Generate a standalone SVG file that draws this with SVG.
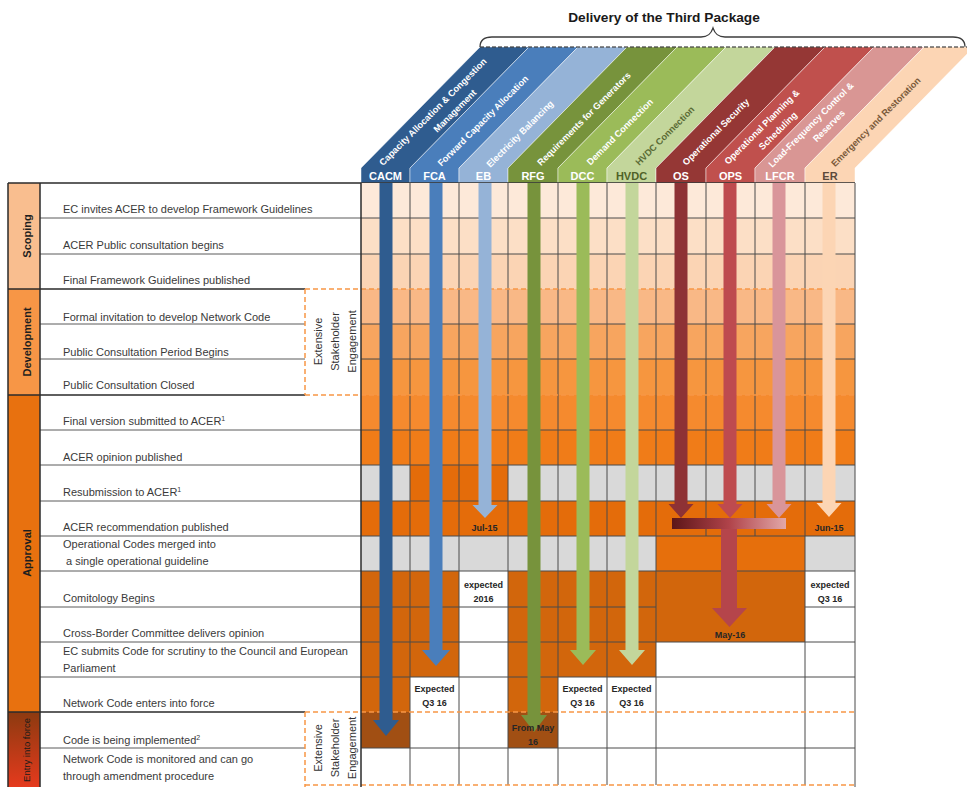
<svg xmlns="http://www.w3.org/2000/svg" width="967" height="787" viewBox="0 0 967 787">
<style>
text{font-family:"Liberation Sans",Arial,sans-serif}
.lbl{font-size:11px;fill:#3a3a3a}
.ph{font-size:11px;font-weight:bold;fill:#1e1e1e}
.hd{font-size:11px;font-weight:bold;fill:#ffffff;text-anchor:middle}
.bt{font-size:9.2px;font-weight:bold;fill:#ffffff;text-anchor:middle;dominant-baseline:central}
.ct{font-size:9px;font-weight:bold;fill:#262626;text-anchor:middle;dominant-baseline:central}
.ese{font-size:11px;fill:#333333;text-anchor:middle;dominant-baseline:central}
.gl{stroke:#4a4a4a;stroke-width:1;fill:none}
.ll{stroke:#5a5a5a;stroke-width:1;fill:none}
.dk{stroke:#2b2b2b;stroke-width:1.5;fill:none}
.dash{stroke:#F79646;stroke-width:1.5;stroke-dasharray:5 3;fill:none}
.band{stroke:#ffffff;stroke-width:0.8;stroke-opacity:0.6}
</style>
<defs>
<linearGradient id="entryG" x1="0" y1="0" x2="0" y2="1">
<stop offset="0" stop-color="#8C3A10"/><stop offset="1" stop-color="#E53A1D"/>
</linearGradient>
<linearGradient id="barG" x1="0" y1="0" x2="1" y2="0">
<stop offset="0" stop-color="#5C1618"/><stop offset="0.5" stop-color="#B0434A"/><stop offset="1" stop-color="#E2A8A8"/>
</linearGradient>
</defs>
<rect width="967" height="787" fill="#ffffff"/>

<g id="title">
<text x="664" y="22" font-size="13.7" font-weight="bold" fill="#1a1a1a" text-anchor="middle">Delivery of the Third Package</text>
<path d="M480,47 C480,40 484,37 492,37 L701,37 C708,37 711,34 713,28 C715,34 718,37 725,37 L953,37 C961,37 965,40 965,47" fill="none" stroke="#3c3c3c" stroke-width="1.3"/>
</g>

<g id="headers">
<g id="h-cacm"><polygon class="band" points="361,183 361,168 480,47 529,47 410,168 410,183" fill="#2F5C8F"/><text class="hd" x="385.5" y="180">CACM</text>
<g transform="translate(433,112) rotate(-45)"><text class="bt" x="0" y="0">Capacity Allocation &amp; Congestion</text></g>
<g transform="translate(455,111) rotate(-45)"><text class="bt" x="0" y="0">Management</text></g></g>
<g id="h-fca"><polygon class="band" points="410,183 410,168 529,47 578,47 459,168 459,183" fill="#4A7EBB"/><text class="hd" x="434.5" y="180">FCA</text>
<g transform="translate(483,121) rotate(-45)"><text class="bt">Forward Capacity Allocation</text></g></g>
<g id="h-eb"><polygon class="band" points="459,183 459,168 578,47 627,47 508,168 508,183" fill="#95B3D7"/><text class="hd" x="483.5" y="180">EB</text>
<g transform="translate(520,134) rotate(-45)"><text class="bt">Electricity Balancing</text></g></g>
<g id="h-rfg"><polygon class="band" points="508,183 508,168 627,47 677,47 558,168 558,183" fill="#77933C"/><text class="hd" x="533" y="180">RFG</text>
<g transform="translate(584,119) rotate(-45)"><text class="bt">Requirements for Generators</text></g></g>
<g id="h-dcc"><polygon class="band" points="558,183 558,168 677,47 726,47 607,168 607,183" fill="#9BBB59"/><text class="hd" x="582.5" y="180">DCC</text>
<g transform="translate(620,132) rotate(-45)"><text class="bt">Demand Connection</text></g></g>
<g id="h-hvdc"><polygon class="band" points="607,183 607,168 726,47 775,47 656,168 656,183" fill="#C3D69B"/><text class="hd" x="631.5" y="180" fill="#4F6228" style="fill:#4F6228">HVDC</text>
<g transform="translate(665,136) rotate(-45)"><text class="bt" style="fill:#5A6B35">HVDC Connection</text></g></g>
<g id="h-os"><polygon class="band" points="656,183 656,168 775,47 825,47 706,168 706,183" fill="#953735"/><text class="hd" x="681" y="180">OS</text>
<g transform="translate(716,132) rotate(-45)"><text class="bt">Operational Security</text></g></g>
<g id="h-ops"><polygon class="band" points="706,183 706,168 825,47 874,47 755,168 755,183" fill="#C0504D"/><text class="hd" x="730.5" y="180">OPS</text>
<g transform="translate(762,127) rotate(-45)"><text class="bt">Operational Planning &amp;</text></g>
<g transform="translate(778,131) rotate(-45)"><text class="bt">Scheduling</text></g></g>
<g id="h-lfcr"><polygon class="band" points="755,183 755,168 874,47 924,47 805,168 805,183" fill="#D99694"/><text class="hd" x="780" y="180">LFCR</text>
<g transform="translate(811,125) rotate(-45)"><text class="bt">Load-Frequency Control &amp;</text></g>
<g transform="translate(829,126) rotate(-45)"><text class="bt">Reserves</text></g></g>
<g id="h-er"><polygon class="band" points="805,183 805,168 924,47 974,47 855,168 855,183" fill="#FCD5B4"/><text class="hd" x="830" y="180" style="fill:#5C4A3A">ER</text>
<g transform="translate(876,122) rotate(-45)"><text class="bt" style="fill:#7A5A3A">Emergency and Restoration</text></g></g>
<line x1="480" y1="47" x2="967" y2="47" stroke="#1a1a1a" stroke-width="1.2" stroke-dasharray="4 2"/>
</g>

<g id="phases">
<g id="ph-scoping"><rect x="8" y="183" width="32" height="106" fill="#F9BE8F"/><text class="ph" transform="translate(27,236) rotate(-90)" text-anchor="middle" dominant-baseline="central">Scoping</text></g>
<g id="ph-development"><rect x="8" y="289" width="32" height="106" fill="#F79646"/><text class="ph" transform="translate(27,342) rotate(-90)" text-anchor="middle" dominant-baseline="central">Development</text></g>
<g id="ph-approval"><rect x="8" y="395" width="32" height="317" fill="#E8710F"/><text class="ph" transform="translate(27,553) rotate(-90)" text-anchor="middle" dominant-baseline="central">Approval</text></g>
<g id="ph-entry"><rect x="8" y="712" width="32" height="75" fill="url(#entryG)"/><text transform="translate(26,750) rotate(-90)" text-anchor="middle" dominant-baseline="central" font-size="9.5" fill="#1a1a1a">Entry into force</text></g>
</g>

<g id="labels">
<rect x="40" y="183" width="321" height="604" fill="#ffffff"/>
<g id="row-lines">
<path class="ll" d="M40,218H361 M40,254H361 M40,324H305 M40,359H305 M40,430H361 M40,465H361 M40,501H361 M40,536H361 M40,571H361 M40,607H361 M40,642H361 M40,677H361 M40,748H305"/>
<path class="dk" d="M8,289H305 M8,395H305 M8,712H305 M8,183H855 M8,183V787 M40,183V787"/>
<path class="dash" d="M305,289V395 M305,712V787"/>
</g>
<g id="r0"><text class="lbl" x="63" y="213">EC invites ACER to develop Framework Guidelines</text></g>
<g id="r1"><text class="lbl" x="63" y="249">ACER Public consultation begins</text></g>
<g id="r2"><text class="lbl" x="63" y="284">Final Framework Guidelines published</text></g>
<g id="r3"><text class="lbl" x="63" y="321">Formal invitation to develop Network Code</text></g>
<g id="r4"><text class="lbl" x="63" y="356">Public Consultation Period Begins</text></g>
<g id="r5"><text class="lbl" x="63" y="389">Public Consultation Closed</text></g>
<g id="r6"><text class="lbl" x="63" y="425">Final version submitted to ACER<tspan font-size="7" dy="-4">1</tspan></text></g>
<g id="r7"><text class="lbl" x="63" y="461">ACER opinion published</text></g>
<g id="r8"><text class="lbl" x="63" y="496">Resubmission to ACER<tspan font-size="7" dy="-4">1</tspan></text></g>
<g id="r9"><text class="lbl" x="63" y="531">ACER recommendation published</text></g>
<g id="r10"><text class="lbl" x="63" y="548">Operational Codes merged into</text><text class="lbl" x="66" y="565">a single operational guideline</text></g>
<g id="r11"><text class="lbl" x="63" y="602">Comitology Begins</text></g>
<g id="r12"><text class="lbl" x="63" y="637">Cross-Border Committee delivers opinion</text></g>
<g id="r13"><text class="lbl" x="63" y="655">EC submits Code for scrutiny to the Council and European</text><text class="lbl" x="63" y="672">Parliament</text></g>
<g id="r14"><text class="lbl" x="63" y="707">Network Code enters into force</text></g>
<g id="r15"><text class="lbl" x="63" y="744">Code is being implemented<tspan font-size="7" dy="-4">2</tspan></text></g>
<g id="r16"><text class="lbl" x="63" y="763">Network Code is monitored and can go</text><text class="lbl" x="63" y="780">through amendment procedure</text></g>
<g id="ese1"><text class="ese" transform="translate(318,341.5) rotate(-90)">Extensive</text><text class="ese" transform="translate(335,341.5) rotate(-90)">Stakeholder</text><text class="ese" transform="translate(352,341.5) rotate(-90)">Engagement</text></g>
<g id="ese2"><text class="ese" transform="translate(318,748) rotate(-90)">Extensive</text><text class="ese" transform="translate(335,748) rotate(-90)">Stakeholder</text><text class="ese" transform="translate(352,748) rotate(-90)">Engagement</text></g>
</g>

<g id="grid">
<rect x="361" y="183" width="494" height="35" fill="#FDE9D9"/>
<rect x="361" y="218" width="494" height="36" fill="#FCDFC6"/>
<rect x="361" y="254" width="494" height="35" fill="#FBD4B4"/>
<rect x="361" y="289" width="494" height="35" fill="#F9B886"/>
<rect x="361" y="324" width="494" height="35" fill="#F7A55F"/>
<rect x="361" y="359" width="494" height="36" fill="#F6963F"/>
<rect x="361" y="395" width="494" height="35" fill="#F58A2E"/>
<rect x="361" y="430" width="494" height="35" fill="#F07C18"/>
<rect x="361" y="465" width="494" height="36" fill="#D9D9D9"/>
<rect x="410" y="465" width="98" height="36" fill="#E46C0A"/>
<rect x="361" y="501" width="494" height="35" fill="#E46C0A"/>
<rect x="361" y="536" width="494" height="35" fill="#D9D9D9"/>
<rect x="656" y="536" width="149" height="35" fill="#E66F0C"/>
<rect x="361" y="571" width="494" height="71" fill="#D2660C"/>
<rect x="459" y="571" width="49" height="71" fill="#ffffff"/>
<rect x="805" y="571" width="50" height="71" fill="#ffffff"/>
<rect x="361" y="642" width="494" height="145" fill="#ffffff"/>
<rect x="361" y="642" width="98" height="35" fill="#D2660C"/>
<rect x="508" y="642" width="148" height="35" fill="#D2660C"/>
<rect x="361" y="677" width="49" height="35" fill="#D2660C"/>
<rect x="508" y="677" width="50" height="35" fill="#D2660C"/>
<rect x="361" y="712" width="49" height="36" fill="#A14F13"/>
<rect x="508" y="712" width="50" height="36" fill="#A14F13"/>
<path class="gl" d="M361,218H855 M361,254H855 M361,324H855 M361,359H855 M361,430H855 M361,465H855 M361,501H855 M361,536H855 M361,571H855 M361,607H656 M805,607H855 M361,642H855 M361,677H855 M361,748H855"/>
<path class="gl" d="M410,183V785 M459,183V785 M508,183V785 M558,183V785 M607,183V785 M656,183V785 M706,183V536 M755,183V536 M805,183V785 M855,183V787"/>
<path class="dash" d="M305,289H855 M305,395H855 M305,712H855 M305,785H855"/>
<path class="dk" d="M361,183V787"/>
</g>

<g id="connectors">
<polygon points="379.5,183 392.5,183 392.5,720 399,720 386,736 373,720 379.5,720" fill="#2F5C8F"/>
<polygon points="429.5,183 442.5,183 442.5,650 450,650 436,666 422,650 429.5,650" fill="#4A7EBB"/>
<polygon points="478.5,183 491.5,183 491.5,505 497.5,505 485,518 472.5,505 478.5,505" fill="#95B3D7"/>
<polygon points="527.5,183 540.5,183 540.5,715 547,715 534,732 521,715 527.5,715" fill="#77933C"/>
<polygon points="576.5,183 589.5,183 589.5,650 596,650 583,665 570,650 576.5,650" fill="#9BBB59"/>
<polygon points="625.5,183 638.5,183 638.5,650 645,650 632,665 619,650 625.5,650" fill="#C3D69B"/>
<polygon points="674.5,183 687.5,183 687.5,504 693.5,504 681,518 668.5,504 674.5,504" fill="#8E3235"/>
<polygon points="723.5,183 736.5,183 736.5,504 742.5,504 730,518 717.5,504 723.5,504" fill="#BE4B4F"/>
<polygon points="772.5,183 785.5,183 785.5,504 791.5,504 779,518 766.5,504 772.5,504" fill="#D9959A"/>
<polygon points="822.5,183 835.5,183 835.5,503 841.5,503 829,517 816.5,503 822.5,503" fill="#FCD5B4"/>
<rect x="672" y="518" width="114" height="11" fill="url(#barG)"/>
<polygon points="721,529 737,529 737,608 747,608 729.5,627 712,608 721,608" fill="#B5454B"/>
</g>

<g id="cell-labels">
<text class="ct" x="484.5" y="528">Jul-15</text>
<text class="ct" x="829" y="528">Jun-15</text>
<text class="ct" x="483.5" y="585">expected</text><text class="ct" x="483.5" y="599">2016</text>
<text class="ct" x="830" y="585">expected</text><text class="ct" x="830" y="599">Q3 16</text>
<text class="ct" x="730" y="635">May-16</text>
<text class="ct" x="434.5" y="689">Expected</text><text class="ct" x="434.5" y="703">Q3 16</text>
<text class="ct" x="582.5" y="689">Expected</text><text class="ct" x="582.5" y="703">Q3 16</text>
<text class="ct" x="631.5" y="689">Expected</text><text class="ct" x="631.5" y="703">Q3 16</text>
<text class="ct" x="533" y="728">From May</text><text class="ct" x="533" y="742">16</text>
</g>
</svg>
